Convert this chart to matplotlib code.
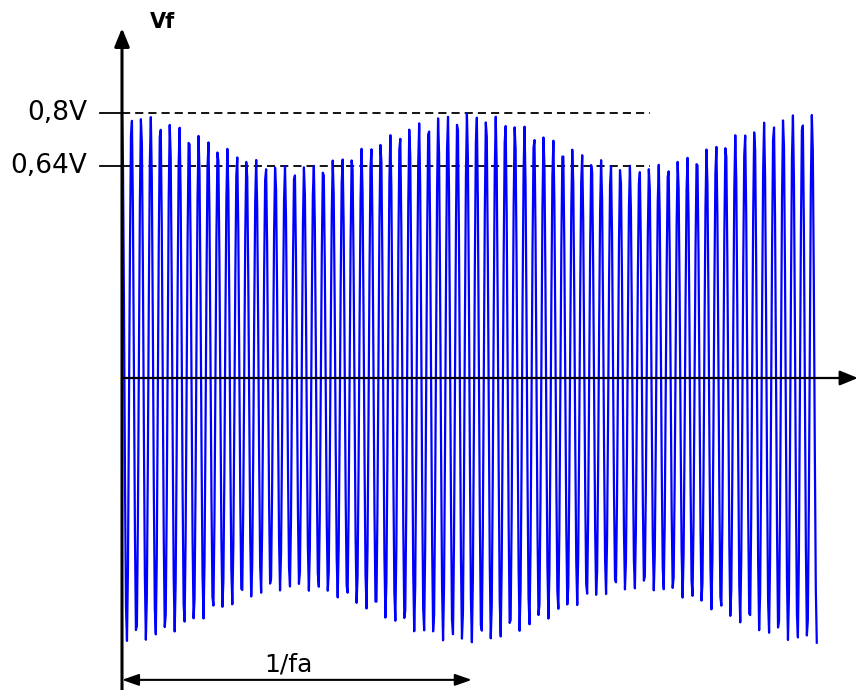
import numpy as np
import matplotlib
matplotlib.use("Agg")
import matplotlib.pyplot as plt

# AM signal parameters
amp_max = 0.8          # envelope maximum (V)
amp_min = 0.64         # envelope minimum (V)
carrier_per_period = 36  # carrier cycles in one modulation period 1/fa
t_end = 72.5 / 36      # signal length, in units of 1/fa
n_samples = 700        # coarse sampling, gives the jagged peaks
level_labels = ["0,8V", "0,64V"]
level_values = [amp_max, amp_min]

t = np.linspace(0, t_end, n_samples)
env = (amp_max + amp_min) / 2 + (amp_max - amp_min) / 2 * np.cos(2 * np.pi * t)
vf = env * np.cos(2 * np.pi * carrier_per_period * t)

fig = plt.figure(figsize=(8.58, 6.90), dpi=100)
ax = fig.add_axes([0, 0, 1, 1])
ax.set_xlim(-122 / 345, (858 - 122) / 345)
ax.set_ylim(-(690 - 378) / 331, 378 / 331)
ax.axis("off")

# signal
ax.plot(t, vf, color="#0000ff", lw=1.6, zorder=3)

# reference levels: short solid tick then dashed line
for lab, val in zip(level_labels, level_values):
    ax.plot([-0.064, 0], [val, val], color="black", lw=1.3, zorder=2)
    ax.plot([0, 1.53], [val, val], color="black", lw=1.3, ls=(0, (4.5, 2.8)), zorder=2)
    ax.text(-0.1, val, lab, ha="right", va="center", fontsize=19)

# axes with arrows
ax.annotate("", xy=(0, 1.057), xytext=(0, -0.95), annotation_clip=False,
            arrowprops=dict(arrowstyle="-|>,head_length=1.1,head_width=0.45",
                            color="black", lw=2.2, shrinkA=0, shrinkB=0), zorder=4)
ax.annotate("", xy=(2.133, 0), xytext=(0, 0), annotation_clip=False,
            arrowprops=dict(arrowstyle="-|>,head_length=1.1,head_width=0.45",
                            color="black", lw=1.6, shrinkA=0, shrinkB=0), zorder=4)
ax.text(0.081, 1.075, "Vf", fontsize=15, fontweight="bold", ha="left", va="center")

# period marker 1/fa
ax.annotate("", xy=(1.014, -0.912), xytext=(0, -0.912), annotation_clip=False,
            arrowprops=dict(arrowstyle="<|-|>,head_length=1.0,head_width=0.35",
                            color="black", lw=1.5, shrinkA=0, shrinkB=0))
ax.text(0.481, -0.865, "1/fa", fontsize=18, ha="center", va="center")

fig.savefig("out.png", dpi=100)
